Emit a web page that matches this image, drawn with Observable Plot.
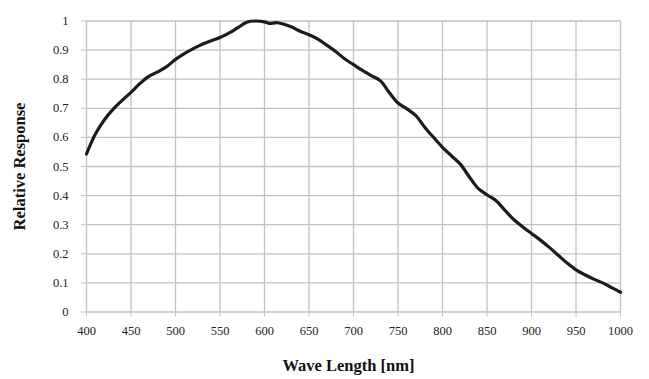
<!DOCTYPE html>
<html>
<head>
<meta charset="utf-8">
<script src="https://cdn.jsdelivr.net/npm/d3@7"></script>
<script src="https://cdn.jsdelivr.net/npm/@observablehq/plot@0.6"></script>
<style>
  html, body { margin: 0; padding: 0; background: #fff; }
</style>
</head>
<body>
<div id="chart"></div>
<script>
const wavelengths = [400,410,420,430,440,450,460,470,480,490,500,510,520,530,540,550,560,570,580,590,600,605,615,630,640,650,660,670,680,690,700,710,720,730,740,750,760,770,780,790,800,810,820,830,840,850,860,870,880,890,900,910,920,930,940,950,960,970,980,990,1000];
const response = [0.543,0.612,0.660,0.697,0.727,0.755,0.785,0.810,0.825,0.843,0.868,0.888,0.905,0.920,0.932,0.943,0.958,0.977,0.996,1.000,0.997,0.992,0.994,0.980,0.965,0.953,0.938,0.917,0.895,0.870,0.850,0.830,0.812,0.795,0.755,0.718,0.698,0.675,0.635,0.600,0.566,0.537,0.508,0.465,0.425,0.403,0.383,0.350,0.318,0.293,0.270,0.247,0.222,0.195,0.168,0.145,0.128,0.113,0.100,0.084,0.068];
const xTicks = [400,450,500,550,600,650,700,750,800,850,900,950,1000];
const yTicks = [0,0.1,0.2,0.3,0.4,0.5,0.6,0.7,0.8,0.9,1];
const yTickLabels = ["0","0.1","0.2","0.3","0.4","0.5","0.6","0.7","0.8","0.9","1"];
const xLabel = "Wave Length [nm]";
const yLabel = "Relative Response";

const data = wavelengths.map((w, i) => ({w, r: response[i]}));
const gridColor = "#c2c2c2";
const serif = "'Liberation Serif', 'Times New Roman', serif";

const chart = Plot.plot({
  width: 649,
  height: 379,
  marginLeft: 86,
  marginRight: 29,
  marginTop: 20.5,
  marginBottom: 67.5,
  style: {fontFamily: serif, fontSize: "12.5px", background: "#fff"},
  x: {domain: [400, 1000]},
  y: {domain: [0, 1]},
  marks: [
    Plot.gridX(xTicks, {stroke: gridColor, strokeOpacity: 1, strokeWidth: 1.3}),
    Plot.gridY(yTicks, {stroke: gridColor, strokeOpacity: 1, strokeWidth: 1.3}),
    Plot.axisX(xTicks, {tickSize: 5, tickPadding: 9, stroke: gridColor, fill: "#222", label: null, tickFormat: d => String(d)}),
    Plot.axisY(yTicks, {tickSize: 5, tickPadding: 13, stroke: gridColor, fill: "#222", label: null, tickFormat: d => yTickLabels[yTicks.indexOf(d)]}),
    Plot.line(data, {x: "w", y: "r", stroke: "#1c1c1c", strokeWidth: 3.2, curve: "catmull-rom"}),
    Plot.text([yLabel], {frameAnchor: "left", textAnchor: "middle", lineAnchor: "middle", rotate: -90, dx: -67, fontWeight: "bold", fontSize: 16.5, fontFamily: serif, fill: "#111"}),
    Plot.text([xLabel], {frameAnchor: "bottom", textAnchor: "middle", lineAnchor: "middle", dx: -5, dy: 53.5, fontWeight: "bold", fontSize: 16.5, fontFamily: serif, fill: "#111"})
  ]
});
document.getElementById("chart").appendChild(chart);
</script>
</body>
</html>
